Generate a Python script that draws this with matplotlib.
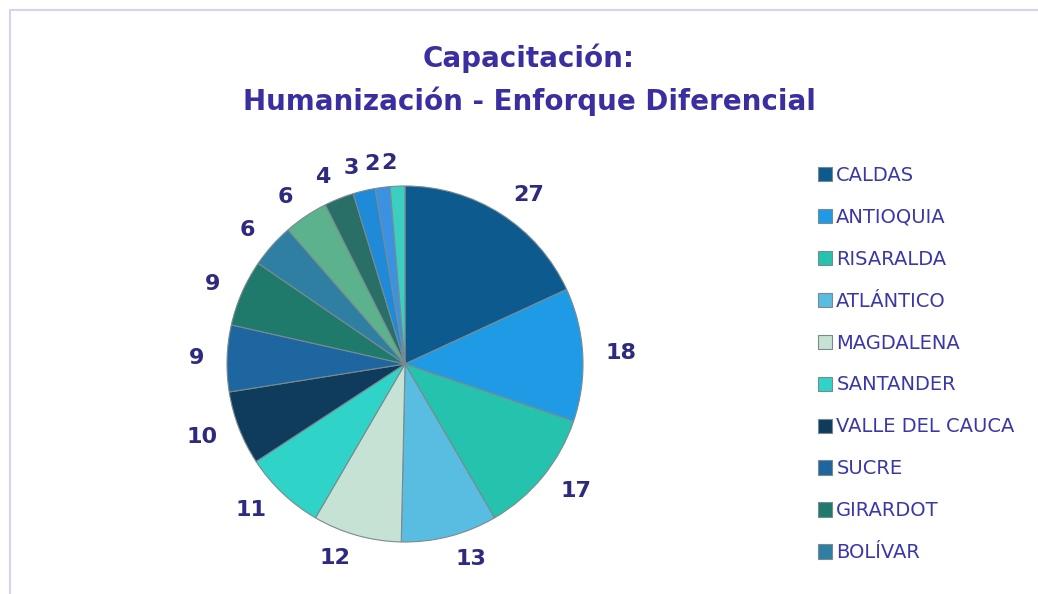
import numpy as np
import matplotlib.pyplot as plt
from matplotlib.patches import Rectangle

# datos (sentido horario desde arriba)
valores = [27, 18, 17, 13, 12, 11, 10, 9, 9, 6, 6, 4, 3, 2, 2]
nombres = ['CALDAS', 'ANTIOQUIA', 'RISARALDA', 'ATLÁNTICO', 'MAGDALENA',
           'SANTANDER', 'VALLE DEL CAUCA', 'SUCRE', 'GIRARDOT', 'BOLÍVAR']
colores = ['#0d5a8e', '#1f9be6', '#25c2ae', '#58bde0', '#c6e2d4',
           '#2fd3c8', '#0f3b5c', '#1d66a0', '#1f7a6c', '#2e7fa2',
           '#5cb28c', '#2a6e68', '#1f8ad8', '#3b92e2', '#3acfc0']

W, H = 1038, 594
fig = plt.figure(figsize=(W / 100, H / 100), dpi=100)

# marco del area del grafico
fig.add_artist(Rectangle((10 / W, -0.01), 1.1, (H - 10) / H + 0.01,
                         transform=fig.transFigure, fill=False,
                         edgecolor='#d6d4f0', linewidth=1.5))

cx, cy, r = 405, 364, 178
ax = fig.add_axes([(cx - r) / W, (H - cy - r) / H, 2 * r / W, 2 * r / H])
wedges, texts = ax.pie(valores, colors=colores, startangle=90, counterclock=False,
                       labels=[str(v) for v in valores], labeldistance=1.13,
                       wedgeprops=dict(edgecolor='#7a8a90', linewidth=0.8),
                       textprops=dict(fontsize=16, fontweight='bold', color='#2e2a80'))
ax.set_xlim(-1, 1)
ax.set_ylim(-1, 1)

fig.text(529 / W, 1 - 58 / H, 'Capacitación:', ha='center', va='center',
         fontsize=20, fontweight='bold', color='#3a2fa0', family='Liberation Sans Narrow')
fig.text(529 / W, 1 - 101 / H, 'Humanización - Enforque Diferencial', ha='center',
         va='center', fontsize=20, fontweight='bold', color='#3a2fa0',
         family='Liberation Sans Narrow')

leg = fig.legend(wedges[:10], nombres, loc='upper left',
                 bbox_to_anchor=(810 / W, 1 - 158 / H), frameon=False,
                 fontsize=14, labelspacing=1.18, handlelength=0.75, handleheight=0.75,
                 handletextpad=0.2, borderaxespad=0)
for t in leg.get_texts():
    t.set_color('#3a38a8')

fig.savefig('out.png', dpi=100)
